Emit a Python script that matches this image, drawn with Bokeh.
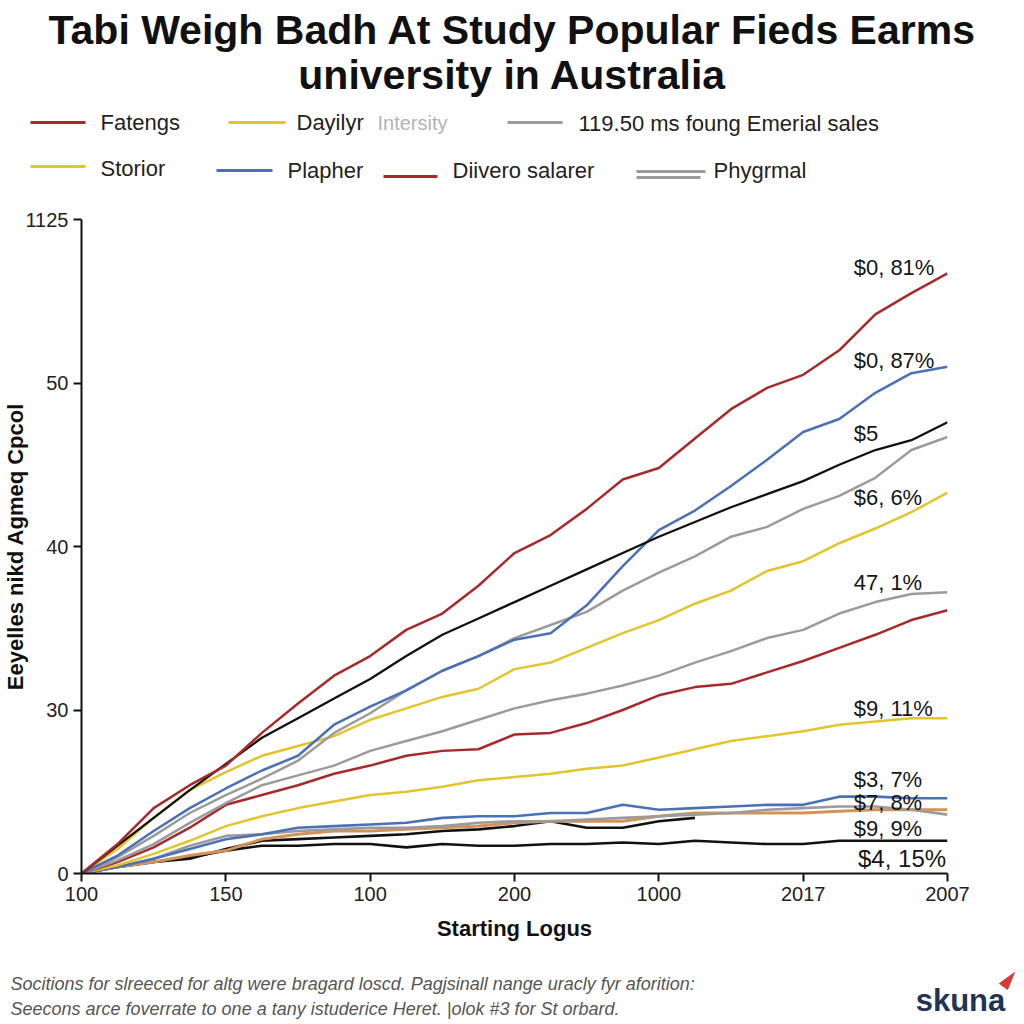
from bokeh.plotting import figure
from bokeh.layouts import column
from bokeh.models import FixedTicker, ColumnDataSource
from bokeh.embed import file_html
from bokeh.resources import INLINE
from bokeh.core.properties import value

# ---------------- data ----------------
TITLE_LINES = ["Tabi Weigh Badh At Study Popular Fieds Earms", "university in Australia"]
X_TICK_LABELS = ["100", "150", "100", "200", "1000", "2017", "2007"]
Y_TICK_LABELS = ["0", "30", "40", "50", "1125"]
X_LABEL = "Starting Logus"
Y_LABEL = "Eeyelles nikd Agmeq Cpcol"
FOOTER = ["Socitions for slreeced for altg were bragard loscd. Pagjsinall nange uracly fyr aforition:",
          "Seecons arce foverrate to one a tany istuderice Heret. |olok #3 for St orbard."]
LOGO = "skuna"

X = [0, 0.25, 0.5, 0.75, 1, 1.25, 1.5, 1.75, 2, 2.25, 2.5, 2.75, 3,
     3.25, 3.5, 3.75, 4, 4.25, 4.5, 4.75, 5, 5.25, 5.5, 5.75, 6]

red_top = [0, 1.8, 4.0, 5.4, 6.6, 8.6, 10.4, 12.1, 13.3, 14.9, 15.9, 17.6, 19.6,
           20.7, 22.3, 24.1, 24.8, 26.6, 28.4, 29.7, 30.5, 32.0, 34.2, 35.5, 36.7]
black_top = [0, 1.7, 3.4, 5.1, 6.7, 8.3, 9.5, 10.7, 11.9, 13.3, 14.6, 15.6, 16.6,
             17.6, 18.6, 19.6, 20.6, 21.5, 22.4, 23.2, 24.0, 25.0, 25.9, 26.5, 27.6]
blue_top = [0, 1.1, 2.6, 4.0, 5.2, 6.3, 7.2, 9.1, 10.2, 11.2, 12.4, 13.3, 14.3,
            14.7, 16.4, 18.8, 21.0, 22.2, 23.7, 25.3, 27.0, 27.8, 29.4, 30.6, 31.0]
gray_top = [0, 1.0, 2.3, 3.7, 4.8, 5.8, 6.9, 8.6, 9.8, 11.2, 12.4, 13.3, 14.4,
            15.2, 16.0, 17.3, 18.4, 19.4, 20.6, 21.2, 22.3, 23.1, 24.2, 25.9, 26.7]
yellow_top = [0, 1.5, 3.4, 5.1, 6.2, 7.2, 7.8, 8.4, 9.4, 10.1, 10.8, 11.3, 12.5,
              12.9, 13.8, 14.7, 15.5, 16.5, 17.3, 18.5, 19.1, 20.2, 21.1, 22.1, 23.3]
gray_mid = [0, 0.8, 1.8, 3.1, 4.3, 5.4, 6.0, 6.6, 7.5, 8.1, 8.7, 9.4, 10.1,
            10.6, 11.0, 11.5, 12.1, 12.9, 13.6, 14.4, 14.9, 15.9, 16.6, 17.1, 17.2]
red_mid = [0, 0.7, 1.6, 2.8, 4.2, 4.8, 5.4, 6.1, 6.6, 7.2, 7.5, 7.6, 8.5,
           8.6, 9.2, 10.0, 10.9, 11.4, 11.6, 12.3, 13.0, 13.8, 14.6, 15.5, 16.1]
yellow_low = [0, 0.5, 1.2, 2.0, 2.9, 3.5, 4.0, 4.4, 4.8, 5.0, 5.3, 5.7, 5.9,
              6.1, 6.4, 6.6, 7.1, 7.6, 8.1, 8.4, 8.7, 9.1, 9.3, 9.5, 9.5]
blue_low = [0, 0.4, 0.9, 1.5, 2.1, 2.4, 2.8, 2.9, 3.0, 3.1, 3.4, 3.5, 3.5,
            3.7, 3.7, 4.2, 3.9, 4.0, 4.1, 4.2, 4.2, 4.7, 4.7, 4.6, 4.6]
gray_low = [0, 0.4, 0.9, 1.7, 2.3, 2.4, 2.6, 2.7, 2.8, 2.8, 2.9, 3.1, 3.2,
            3.2, 3.3, 3.4, 3.5, 3.6, 3.7, 3.9, 4.0, 4.1, 4.1, 3.9, 3.6]
orange_low = [0, 0.4, 0.7, 1.1, 1.4, 2.1, 2.4, 2.6, 2.6, 2.7, 2.8, 2.9, 3.1,
              3.2, 3.2, 3.2, 3.5, 3.7, 3.7, 3.7, 3.7, 3.8, 3.9, 3.9, 3.9]
black_mid = [0, 0.4, 0.7, 0.9, 1.5, 2.0, 2.1, 2.2, 2.3, 2.4, 2.6, 2.7, 2.9,
             3.2, 2.8, 2.8, 3.2, 3.4]
black_low = [0, 0.4, 0.7, 1.0, 1.4, 1.7, 1.7, 1.8, 1.8, 1.6, 1.8, 1.7, 1.7,
             1.8, 1.8, 1.9, 1.8, 2.0, 1.9, 1.8, 1.8, 2.0, 2.0, 2.0, 2.0]

END_LABELS = ["$0, 81%", "$0, 87%", "$5", "$6, 6%", "47, 1%", "$9, 11%",
              "$3, 7%", "$7, 8%", "$9, 9%", "$4, 15%"]

LEGEND_ROW1 = ["Fatengs", "Dayilyr", "Intersity", "119.50 ms foung Emerial sales"]
LEGEND_ROW2 = ["Storior", "Plapher", "Diivero salarer", "Phygrmal"]

# ---------------- style ----------------
RED = "#a8292b"
YEL = "#e2c42c"
GRAY = "#9b9b9b"
BLUE = "#4a70b6"
BLK = "#111111"
ORG = "#d29258"
FONT = "Liberation Sans"
W = 1016


def blank(h):
    f = figure(width=W, height=h, x_range=(0, W), y_range=(h, 0),
               output_backend="svg", toolbar_location=None,
               x_axis_type=None, y_axis_type=None,
               min_border=0, min_border_left=0, min_border_right=0,
               min_border_top=0, min_border_bottom=0)
    f.frame_align = False
    f.outline_line_color = None
    f.grid.visible = False
    return f


# ---------------- header: title + legend ----------------
HH = 195
head = blank(HH)
head.text(x=[512, 512], y=[29, 74], text=TITLE_LINES, text_font=value(FONT),
          text_font_size="41px", text_font_style="bold", text_color="#111111",
          text_align="center", text_baseline="middle")

leg_text = ColumnDataSource(dict(
    x=[100, 296, 578, 100, 287, 452, 713],
    y=[122, 122, 123, 168, 170, 170, 170],
    t=[LEGEND_ROW1[0], LEGEND_ROW1[1], LEGEND_ROW1[3],
       LEGEND_ROW2[0], LEGEND_ROW2[1], LEGEND_ROW2[2], LEGEND_ROW2[3]]))
head.text(x="x", y="y", text="t", source=leg_text, text_font=value(FONT),
          text_font_size="22px", text_color="#222222", text_baseline="middle")
head.text(x=[377], y=[122], text=[LEGEND_ROW1[2]], text_font=value(FONT),
          text_font_size="20px", text_color="#b3b3b3", text_baseline="middle")
leg_seg = ColumnDataSource(dict(
    x0=[30, 228, 507, 30, 216, 383, 636, 636],
    x1=[85, 285, 562, 85, 272, 437, 705, 700],
    y=[122, 122, 122, 166, 170, 176, 171, 177],
    c=[RED, YEL, GRAY, YEL, BLUE, RED, GRAY, GRAY]))
head.segment(x0="x0", y0="y", x1="x1", y1="y", line_color="c", line_width=3, source=leg_seg)

# ---------------- main chart ----------------
p = figure(width=W, height=755, x_range=(0, 6), y_range=(0, 40),
           output_backend="svg", toolbar_location=None,
           min_border_left=80, min_border_right=W - 947, min_border_top=24, min_border_bottom=77)
p.frame_align = False
p.outline_line_color = None
p.grid.visible = False

series = [
    (black_low, BLK, 2.6), (black_mid, BLK, 2.6), (orange_low, ORG, 3.0),
    (gray_low, GRAY, 2.6), (blue_low, BLUE, 2.6), (yellow_low, YEL, 2.5),
    (red_mid, RED, 2.5), (gray_mid, GRAY, 2.5), (yellow_top, YEL, 2.5),
    (gray_top, GRAY, 2.5), (blue_top, BLUE, 2.5), (black_top, BLK, 2.3),
    (red_top, RED, 2.5),
]
for ys, col, w in series:
    p.line(X[:len(ys)], ys, line_color=col, line_width=w)

anchors = [red_top, blue_top, black_top, yellow_top, gray_mid, yellow_low,
           blue_low, orange_low, black_low, black_low]
offsets = [-6, -6, 11, 5, -10, -10, -19, -7, -12, 18]
sizes = ["22px"] * 9 + ["24px"]
src = ColumnDataSource(dict(
    x=[5.35] * 9 + [5.38],
    y=[a[-1] for a in anchors],
    t=END_LABELS, off=offsets, fs=sizes))
p.text(x="x", y="y", text="t", y_offset="off", text_font_size="fs", source=src,
       text_font=value(FONT), text_color="#151515", text_baseline="middle")

for ax in (p.xaxis, p.yaxis):
    ax.axis_line_width = 2
    ax.axis_line_color = "#111111"
    ax.major_tick_line_width = 2
    ax.major_tick_line_color = "#111111"
    ax.major_tick_out = 8
    ax.major_tick_in = 0
    ax.minor_tick_line_color = None
    ax.major_label_text_font = FONT
    ax.major_label_text_font_size = "20px"
    ax.major_label_text_color = "#222222"
    ax.axis_label_text_font = FONT
    ax.axis_label_text_font_style = "bold"
    ax.axis_label_text_font_size = "22px"
    ax.axis_label_text_color = "#111111"

p.xaxis.ticker = FixedTicker(ticks=list(range(len(X_TICK_LABELS))))
p.xaxis.major_label_overrides = {i: t for i, t in enumerate(X_TICK_LABELS)}
p.yaxis.ticker = FixedTicker(ticks=[i * 10 for i in range(len(Y_TICK_LABELS))])
p.yaxis.major_label_overrides = {i * 10: t for i, t in enumerate(Y_TICK_LABELS)}
p.xaxis.axis_label = X_LABEL
p.xaxis.axis_label_standoff = 12
p.yaxis.axis_label = Y_LABEL
p.yaxis.axis_label_standoff = -6

# ---------------- footer ----------------
FH = 74
foot = blank(FH)
foot.text(x=[10, 10], y=[33, 58], text=FOOTER, text_font=value(FONT),
          text_font_size="18px", text_font_style="italic", text_color="#555555",
          text_baseline="middle")
foot.text(x=[960], y=[50], text=[LOGO], text_font=value(FONT), text_font_size="31px",
          text_font_style="bold", text_color="#1f3553", text_align="center",
          text_baseline="middle")
foot.patch(x=[999, 1014, 1007], y=[33, 22, 39], fill_color="#d83a32", line_color="#d83a32")

layout = column(head, p, foot)
open("out.html", "w").write(file_html(layout, INLINE))
